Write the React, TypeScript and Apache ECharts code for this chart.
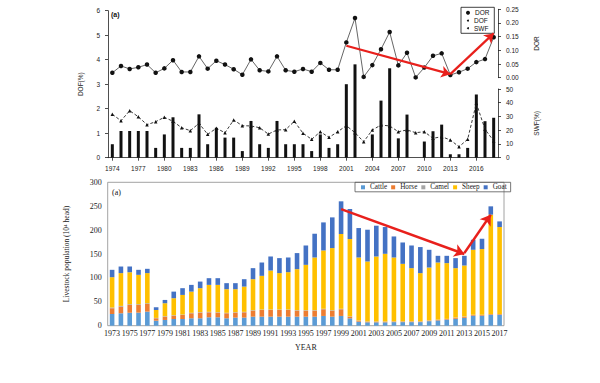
import React, { useEffect, useRef } from "react";
import * as echarts from "echarts";

const topYears = ["1974","1975","1976","1977","1978","1979","1980","1981","1982","1983","1984","1985","1986","1987","1988","1989","1990","1991","1992","1993","1994","1995","1996","1997","1998","1999","2000","2001","2002","2003","2004","2005","2006","2007","2008","2009","2010","2011","2012","2013","2014","2015","2016","2017","2018"];
const dor = [0.018,0.043,0.032,0.038,0.048,0.018,0.034,0.064,0.021,0.021,0.078,0.033,0.062,0.048,0.031,0.011,0.067,0.027,0.023,0.078,0.027,0.022,0.032,0.022,0.054,0.029,0.029,0.129,0.218,0.003,0.046,0.104,0.167,0.045,0.091,0.001,0.037,0.080,0.089,0.010,0.020,0.033,0.057,0.068,0.148];
const dof = [0.55,1.09,1.09,1.09,1.09,0.40,0.95,1.65,0.40,0.40,1.77,0.55,1.22,0.82,0.82,0.27,1.50,0.55,0.40,1.50,0.55,0.55,0.55,0.27,0.95,0.40,0.55,3.00,3.81,0,0.95,2.33,3.65,0.79,1.76,0,0.66,1.08,1.35,0.14,0.14,0.40,2.58,1.49,1.63];
const swf = [31.6,26.9,34.2,29.8,24.0,26.2,29.4,26.5,21.8,19.7,25.0,17.0,21.4,18.2,27.4,23.3,23.1,21.8,17.2,20.2,20.4,26.5,17.8,13.4,18.9,14.8,18.9,23.3,18.2,11.6,20.2,23.8,23.1,18.9,20.2,18.2,18.9,14.1,15.3,12.9,8.0,13.4,39.6,20.7,12.2];

const bottomYears = ["1973","1974","1975","1976","1977","1978","1979","1980","1981","1982","1983","1984","1985","1986","1987","1988","1989","1990","1991","1992","1993","1994","1995","1996","1997","1998","1999","2000","2001","2002","2003","2004","2005","2006","2007","2008","2009","2010","2011","2012","2013","2014","2015","2016","2017"];
const cattle = [24.5,26,27.3,27.3,29.4,10.5,12,14,14,15.5,15.5,17.6,17.6,15.5,16.9,16.9,18.9,18.9,18.9,18.9,18.9,18.9,18.9,18.9,20.4,18.9,20.4,15.5,8.4,7.1,7.1,7.1,7.5,7.5,7.5,7.5,9.5,11,12.5,14.5,16.5,21,21,22.4,22.4];
const horse = [12,13.9,16.1,16.1,16.1,5,6.9,7,8.4,10.5,11.8,10.4,9.7,10.5,10.4,11.1,12.6,14,14,14,14,12.6,12.6,12.6,14,12.6,14,3.4,2.1,1.3,1.3,1.3,1.2,1.2,1.2,1.2,1.2,1.2,1.3,2.2,2.4,1.4,1.4,1.5,1.5];
const camel = [1.5,1.5,1.5,1.5,1.5,0.8,1,1,1,1,1,1,1,1,1,1,1,1,1,1,1,1,1,1,1,1,1,0.8,0.5,0.5,0.5,0.5,0.5,0.5,0.5,0.5,0.5,0.5,0.5,0.5,0.5,0.5,0.5,0.5,0.5];
const sheep = [63.5,68.6,67.1,61.5,63,16.6,27.1,35.5,41,44.3,50.2,56.4,57.1,49.4,48.1,52.8,64.8,70.4,81.5,76.1,78.1,85.8,94.8,110.2,122,129.9,156.4,161.6,131.7,125.4,135.9,141.5,133.5,120.2,111.2,100.8,110.5,119.5,116.6,103.2,106.5,135.9,137.4,207.9,182];
const goat = [15.4,13.8,11.8,10.5,9,5.7,6.9,13.8,14.1,14.1,13.8,14,14,12.6,12.6,15.5,23.1,27.9,29.4,31.4,30.7,33.6,40.5,49.7,58.7,64.2,68.4,62.9,61.6,66.5,64.4,56,44,44.7,47.4,54.5,37.1,14,15.3,21,20.3,21,21.6,17.4,11.8];

const topArrows = [
  [["2001", 0.117], ["2013", 0.013]],
  [["2013", 0.013], ["2018", 0.162]],
];
const bottomArrows = [
  [["1999", 244], ["2013", 150]],
  [["2013", 152], ["2016", 232]],
];

const SANS = "Liberation Sans, Arial, sans-serif";
const SERIF = "Liberation Serif, Times New Roman, serif";
const RED = "#e8201c";

export default function App() {
  const ref = useRef<HTMLDivElement>(null);
  useEffect(() => {
    if (!ref.current) return;
    const chart = echarts.init(ref.current, null, { renderer: "svg" });
    const TL = 108, TW = 390;
    const sansLabel = { fontFamily: SANS, fontSize: 6.5, color: "#222" };
    const serifLabel = { fontFamily: SERIF, fontSize: 8, color: "#222" };
    const mk = (arr: any[]) =>
      arr.map((a) => [{ coord: a[0] }, { coord: a[1] }]);
    chart.setOption({
      animation: false,
      title: [
        { text: "(a)", left: 111, top: 11, padding: 0, textStyle: { fontFamily: SANS, fontSize: 7, fontWeight: "bold", color: "#111" } },
        { text: "(a)", left: 112, top: 188, padding: 0, textStyle: { fontFamily: SERIF, fontSize: 8, fontWeight: "normal", color: "#111" } },
      ],
      legend: [
        {
          data: [{ name: "DOR", icon: "circle" }],
          orient: "vertical", left: 466, top: 9, padding: 0,
          itemWidth: 4, itemHeight: 4, itemGap: 0,
          textStyle: { fontFamily: SANS, fontSize: 6.5, color: "#111", lineHeight: 7.7 },
        },
        {
          data: [{ name: "DOF", icon: "circle" }, { name: "SWF", icon: "circle" }],
          orient: "vertical", left: 467, top: 16.7, padding: 0,
          itemWidth: 2, itemHeight: 2, itemGap: 0,
          textStyle: { fontFamily: SANS, fontSize: 6.5, color: "#111", lineHeight: 7.7 },
        },
        {
          data: ["Cattle", "Horse", "Camel", "Sheep", "Goat"],
          left: 355, top: 182.3, padding: [1.5, 4, 1, 6],
          itemWidth: 4, itemHeight: 4, itemGap: 4, icon: "rect",
          borderColor: "#555", borderWidth: 0.8,
          textStyle: { fontFamily: SERIF, fontSize: 7.2, color: "#222" },
        },
      ],
      graphic: [
        { type: "rect", shape: { x: 461, y: 7.3, width: 33.3, height: 26 }, style: { fill: "none", stroke: "#111", lineWidth: 0.8 }, silent: true },
      ],
      grid: [
        { left: TL, top: 10.7, width: TW, height: 147 },
        { left: TL, top: 9.3, width: TW, height: 68.4 },
        { left: TL, top: 89, width: TW, height: 68.7 },
        { left: 107.7, top: 182.3, width: 396.3, height: 143.4, show: true, borderColor: "#8c8c8c", borderWidth: 0.8 },
      ],
      xAxis: [
        {
          type: "category", gridIndex: 0, data: topYears, boundaryGap: true,
          axisLine: { show: true, lineStyle: { color: "#222", width: 0.8 } },
          axisTick: { show: true, interval: 2, alignWithLabel: true, length: 3, lineStyle: { color: "#222", width: 0.8 } },
          axisLabel: { interval: 2, margin: 7, ...sansLabel },
        },
        { type: "category", gridIndex: 1, data: topYears, show: false },
        { type: "category", gridIndex: 2, data: topYears, show: false },
        {
          type: "category", gridIndex: 3, data: bottomYears, boundaryGap: true,
          name: "YEAR", nameLocation: "middle", nameGap: 18,
          nameTextStyle: { fontFamily: SERIF, fontSize: 8, color: "#222" },
          axisLine: { show: false }, axisTick: { show: false },
          axisLabel: { interval: 1, margin: 4, ...serifLabel },
        },
      ],
      yAxis: [
        {
          type: "value", gridIndex: 0, min: 0, max: 6, interval: 1, position: "left",
          name: "DOF(%)", nameLocation: "middle", nameGap: 24, nameRotate: 90,
          nameTextStyle: { fontFamily: SANS, fontSize: 6.5, color: "#222" },
          axisLine: { show: true, lineStyle: { color: "#222", width: 0.8 } },
          axisTick: { show: true, length: 3, lineStyle: { color: "#222", width: 0.8 } },
          axisLabel: { margin: 8, ...sansLabel },
          splitLine: { show: false },
        },
        {
          type: "value", gridIndex: 1, min: 0, max: 0.25, interval: 0.05, position: "right",
          name: "DOR", nameLocation: "middle", nameGap: 35, nameRotate: 90,
          nameTextStyle: { fontFamily: SANS, fontSize: 6.5, color: "#222" },
          axisLine: { show: true, lineStyle: { color: "#222", width: 0.8 } },
          axisTick: { show: true, length: 3, lineStyle: { color: "#222", width: 0.8 } },
          axisLabel: { margin: 8, formatter: (v: number) => v.toFixed(2), ...sansLabel },
          splitLine: { show: false },
        },
        {
          type: "value", gridIndex: 2, min: 0, max: 50, interval: 10, position: "right",
          name: "SWF(%)", nameLocation: "middle", nameGap: 35, nameRotate: 90,
          nameTextStyle: { fontFamily: SANS, fontSize: 6.5, color: "#222" },
          axisLine: { show: true, lineStyle: { color: "#222", width: 0.8 } },
          axisTick: { show: true, length: 3, lineStyle: { color: "#222", width: 0.8 } },
          axisLabel: { margin: 8, ...sansLabel },
          splitLine: { show: false },
        },
        {
          type: "value", gridIndex: 3, min: 0, max: 300, interval: 50,
          name: "Livestock population (10\u2074 head)", nameLocation: "middle", nameGap: 37, nameRotate: 90,
          nameTextStyle: { fontFamily: SERIF, fontSize: 7.5, color: "#222" },
          axisLine: { show: false }, axisTick: { show: false },
          axisLabel: { margin: 6, ...serifLabel },
          splitLine: { show: false },
        },
      ],
      series: [
        {
          name: "DOF", type: "bar", xAxisIndex: 0, yAxisIndex: 0, data: dof,
          barWidth: 3, itemStyle: { color: "#111" },
        },
        {
          name: "SWF", type: "line", xAxisIndex: 2, yAxisIndex: 2, data: swf,
          symbol: "triangle", symbolSize: 3.5, showSymbol: true,
          lineStyle: { color: "#222", width: 0.9, type: [3, 2] },
          itemStyle: { color: "#111" },
        },
        {
          name: "DOR", type: "line", xAxisIndex: 1, yAxisIndex: 1, data: dor,
          symbol: "circle", symbolSize: 4.5, showSymbol: true,
          lineStyle: { color: "#555", width: 0.9 },
          itemStyle: { color: "#111" },
          markLine: {
            silent: true, symbol: ["none", "arrow"], symbolSize: 9,
            label: { show: false },
            lineStyle: { color: RED, width: 2.2, type: "solid" },
            data: mk(topArrows),
          },
        },
        ...[
          ["Cattle", cattle, "#5b9bd5"],
          ["Horse", horse, "#ed7d31"],
          ["Camel", camel, "#a5a5a5"],
          ["Sheep", sheep, "#ffc000"],
          ["Goat", goat, "#4472c4"],
        ].map(([name, data, color]: any, i: number) => ({
          name, type: "bar", stack: "live", xAxisIndex: 3, yAxisIndex: 3, data,
          barWidth: 4.6, itemStyle: { color },
          ...(i === 4
            ? {
                markLine: {
                  silent: true, symbol: ["none", "arrow"], symbolSize: 10,
                  label: { show: false },
                  lineStyle: { color: RED, width: 2.4, type: "solid" },
                  data: mk(bottomArrows),
                },
              }
            : {}),
        })),
      ],
    });
    return () => chart.dispose();
  }, []);
  return <div ref={ref} style={{ position: "fixed", left: 0, top: 0, width: 600, height: 383, background: "#fff" }} />;
}
